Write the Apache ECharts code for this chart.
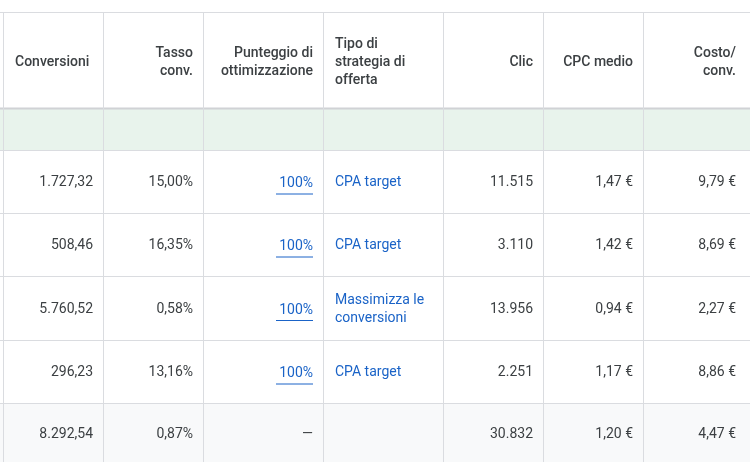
<!DOCTYPE html>
<html><head><meta charset="utf-8">
<script src="https://cdn.jsdelivr.net/npm/echarts@6/dist/echarts.min.js"></script>
<style>html,body{margin:0;padding:0;background:#fff}#c{width:750px;height:462px}</style>
</head><body><div id="c"></div>
<script>
const headers = ["Conversioni","Tasso\nconv.","Punteggio di\nottimizzazione","Tipo di\nstrategia di\nofferta","Clic","CPC medio","Costo/\nconv."];
const conversioni = ["1.727,32","508,46","5.760,52","296,23","8.292,54"];
const tassoConv = ["15,00%","16,35%","0,58%","13,16%","0,87%"];
const punteggio = ["100%","100%","100%","100%","—"];
const strategia = ["CPA target","CPA target","Massimizza le\nconversioni","CPA target",""];
const clic = ["11.515","3.110","13.956","2.251","30.832"];
const cpcMedio = ["1,47 €","1,42 €","0,94 €","1,17 €","1,20 €"];
const costoConv = ["9,79 €","8,69 €","2,27 €","8,86 €","4,47 €"];

const cols = [conversioni,tassoConv,punteggio,strategia,clic,cpcMedio,costoConv];
const xEdges = [3,103,203,323,443,543,643,746];
const rowEdges = [150,213,276,340,403,470];
const font = 'Roboto, "Noto Sans", sans-serif';
const g = [];
g.push({type:'rect',shape:{x:0,y:108,width:750,height:42},style:{fill:'#e8f3ec'}});
g.push({type:'rect',shape:{x:0,y:403,width:750,height:60},style:{fill:'#f8f9fa'}});
[12,150,213,276,340,403].forEach(y=>g.push({type:'line',shape:{x1:0,y1:y+0.5,x2:750,y2:y+0.5},style:{stroke:'#dadce0',lineWidth:1}}));
g.push({type:'line',shape:{x1:0,y1:108.5,x2:750,y2:108.5},style:{stroke:'#d0d2d5',lineWidth:2}});
xEdges.slice(0,7).forEach(x=>g.push({type:'line',shape:{x1:x+0.5,y1:12,x2:x+0.5,y2:462},style:{stroke:'#dadce0',lineWidth:1}}));
headers.forEach((h,i)=>{
  const left = (i===0||i===3);
  g.push({type:'text',x: left? xEdges[i]+12 : xEdges[i+1]-10, y:62,
    style:{text:h,font:'500 14px '+font,fill:'#3c4043',align:left?'left':'right',verticalAlign:'middle',lineHeight:18}});
});
cols.forEach((col,i)=>{
  col.forEach((v,r)=>{
    if(!v) return;
    const cy = (r<4 ? (rowEdges[r]+rowEdges[r+1])/2 : 433) + 1;
    const left = (i===3);
    const link = (i===2||i===3) && r<4;
    const x = left? xEdges[i]+12 : xEdges[i+1]-10;
    g.push({type:'text',x:x,y:cy+(i===2&&r<4?1:0),style:{text:v,font:'14px '+font,fill:link?'#1a63c7':'#3c4043',align:left?'left':'right',verticalAlign:'middle',lineHeight:18}});
    if(i===2 && r<4){
      g.push({type:'line',shape:{x1:x-37,y1:cy+11.5,x2:x,y2:cy+11.5},style:{stroke:'#1a63c7',lineWidth:1}});
    }
  });
});
const chart = echarts.init(document.getElementById('c'));
chart.setOption({animation:false,graphic:g});
</script></body></html>
